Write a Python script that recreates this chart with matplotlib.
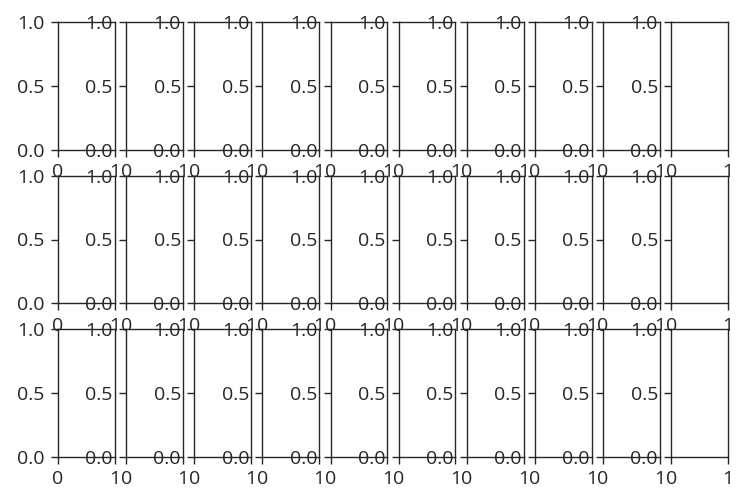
#Cuadrícula de ejes vacíos (3 x 10)

#librerías
import matplotlib
matplotlib.use("Agg")
import matplotlib.pyplot as plt

#Datos: solo la forma de la cuadrícula y los límites de los ejes
n_filas = 3
n_columnas = 10
lim_x = [0, 1]
lim_y = [0, 1]

#Estilo
plt.rcParams['font.family'] = ['Open Sans', 'DejaVu Sans']
plt.rcParams['font.size'] = 14
gris = '#262626'
plt.rcParams['axes.edgecolor'] = gris
plt.rcParams['axes.linewidth'] = 1.0
plt.rcParams['xtick.color'] = gris
plt.rcParams['ytick.color'] = gris
plt.rcParams['xtick.labelcolor'] = gris
plt.rcParams['ytick.labelcolor'] = gris
plt.rcParams['xtick.major.size'] = 4.8
plt.rcParams['ytick.major.size'] = 4.8
plt.rcParams['xtick.major.width'] = 1.0
plt.rcParams['ytick.major.width'] = 1.0
plt.rcParams['xtick.major.pad'] = 4.8
plt.rcParams['ytick.major.pad'] = 4.8

#Programa principal
fig, ejes = plt.subplots(n_filas, n_columnas, figsize=(7.48, 5.04), dpi=100)
fig.subplots_adjust(left=58/748, right=728/748, top=1-22/504, bottom=1-457/504,
                    wspace=0.2, hspace=0.2)

for fila in ejes:
    for ax in fila:
        ax.set_xlim(lim_x)
        ax.set_ylim(lim_y)

fig.savefig("out.png", dpi=100)
